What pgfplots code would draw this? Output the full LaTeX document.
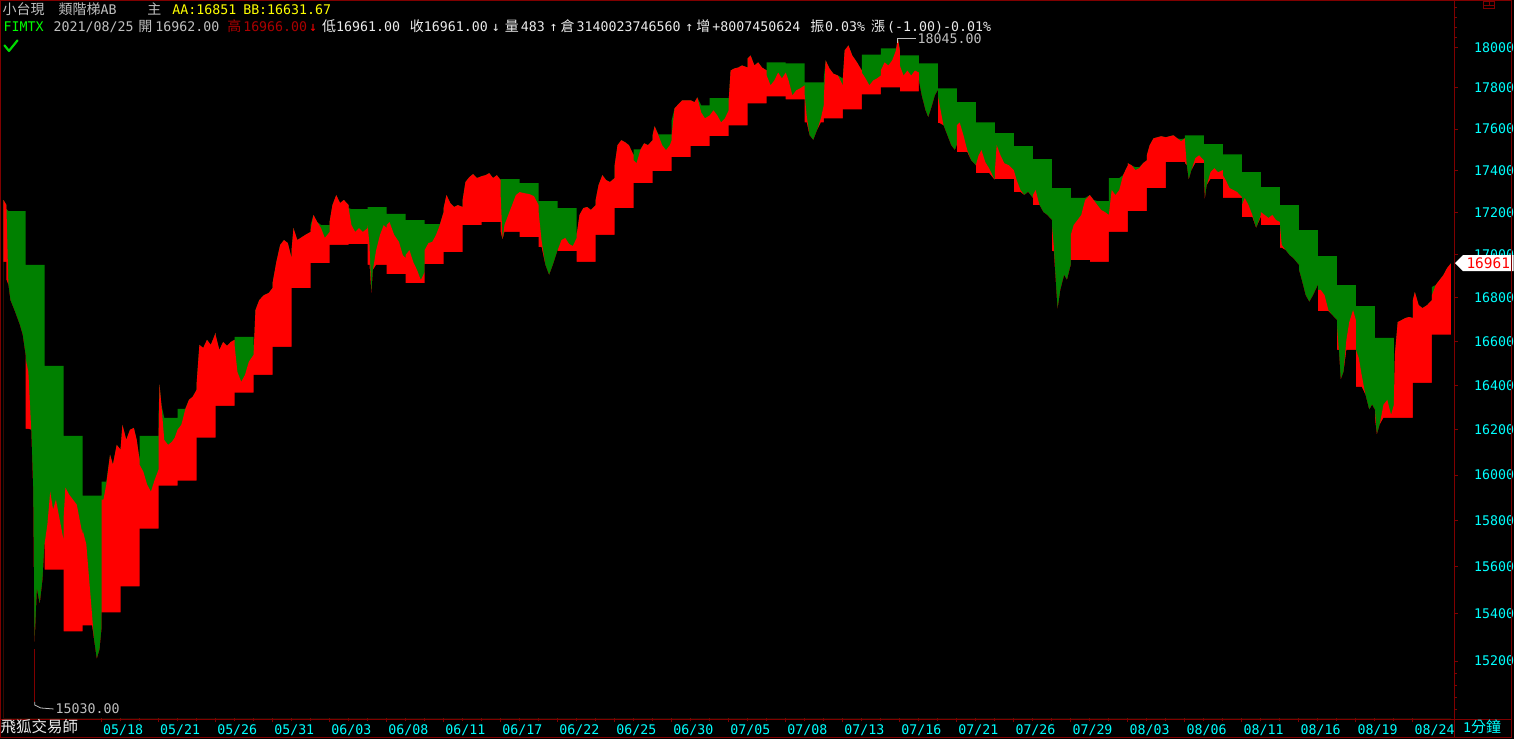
\documentclass[border=0pt]{standalone}
\usepackage{pgfplots}
\pgfplotsset{compat=1.18}
\usepackage{pgfplotstable}
\usetikzlibrary{shapes.symbols}
\usepackage{fontspec}
\setmainfont{DejaVu Sans Mono}
\newfontfamily\cjk{Noto Sans CJK TC}
\definecolor{cred}{RGB}{255,0,0}
\definecolor{cgreen}{RGB}{0,128,0}
\definecolor{dred}{RGB}{128,0,0}
\definecolor{ccyan}{RGB}{0,255,255}
\definecolor{lgray}{RGB}{192,192,192}
\definecolor{hgray}{RGB}{235,235,235}
\definecolor{cyel}{RGB}{255,255,0}
\definecolor{lgreen}{RGB}{0,255,0}
\definecolor{hired}{RGB}{170,0,0}
\pagecolor{black}
\newcommand\mfont{\fontsize{13.3}{14}\selectfont}
\newcommand\cfont{\cjk\fontsize{14}{14}\selectfont}

% x = trading-day index, p = price, aa / bb = ladder levels of the day
% (the price scale is logarithmic: y = ln(price/14963))
\pgfplotstableread{
x p aa bb
-0.158 17259 16967 16967
0 17235 16967 16967
0 17216 17207 16883
0.1 16860 17207 16883
0.2 16790 17207 16883
0.45 16735 17207 16883
0.7 16675 17207 16883
0.85 16630 17207 16883
1 16539 17207 16883
1 16525 16953 16205
1.15 16461 16953 16205
1.3 16201 16953 16205
1.4 15936 16953 16205
1.47 15250 16953 16205
1.6 15504 16953 16205
1.75 15440 16953 16205
1.9 15546 16953 16205
2 15697 16953 16205
2 15697 16489 15589
2.15 15783 16489 15589
2.3 15927 16489 15589
2.45 15849 16489 15589
2.6 15892 16489 15589
2.8 15805 16489 15589
3 15718 16489 15589
3 15805 16174 15326
3.1 15945 16174 15326
3.3 15914 16174 15326
3.5 15892 16174 15326
3.7 15870 16174 15326
3.85 15805 16174 15326
4 15740 16174 15326
4 15762 15910 15351
4.2 15697 15910 15351
4.35 15546 15910 15351
4.5 15398 15910 15351
4.6 15292 15910 15351
4.75 15208 15910 15351
4.9 15250 15910 15351
5 15334 15910 15351
5 15892 15971 15406
5.1 15892 15971 15406
5.25 15958 15971 15406
5.45 16090 15971 15406
5.6 16046 15971 15406
5.8 16134 15971 15406
6 16112 15971 15406
6 16112 15516 15516
6.1 16223 15516 15516
6.3 16156 15516 15516
6.5 16201 15516 15516
6.7 16209 15516 15516
6.85 16156 15516 15516
7 16068 15516 15516
7 16046 16174 15766
7.2 16015 16174 15766
7.4 15958 16174 15766
7.6 15927 16174 15766
7.8 15980 16174 15766
8 16024 16174 15766
8 16156 16254 15954
8.05 16403 16254 15954
8.15 16313 16254 15954
8.3 16156 16254 15954
8.5 16134 16254 15954
8.7 16147 16254 15954
8.85 16165 16254 15954
9 16201 16254 15954
9 16201 16295 15976
9.2 16223 16295 15976
9.4 16290 16295 15976
9.6 16335 16295 15976
9.8 16349 16295 15976
10 16380 16295 15976
10 16403 16165 16165
10.15 16584 16165 16165
10.35 16570 16165 16165
10.55 16607 16165 16165
10.75 16584 16165 16165
10.9 16616 16165 16165
11 16639 16165 16165
11 16630 16308 16308
11.2 16561 16308 16308
11.4 16598 16308 16308
11.6 16579 16308 16308
11.8 16598 16308 16308
12 16607 16308 16308
12 16584 16621 16367
12.15 16461 16621 16367
12.35 16416 16621 16367
12.55 16448 16621 16367
12.75 16507 16621 16367
13 16539 16621 16367
13 16539 16448 16448
13.1 16744 16448 16448
13.3 16790 16448 16448
13.55 16813 16448 16448
13.8 16823 16448 16448
14 16846 16448 16448
14 16869 16575 16575
14.2 16967 16575 16575
14.4 17047 16575 16575
14.6 17070 16575 16575
14.8 17056 16575 16575
15 16985 16575 16575
15 17023 16846 16846
15.1 17126 16846 16846
15.3 17070 16846 16846
15.55 17084 16846 16846
15.8 17098 16846 16846
16 17108 16846 16846
16 17117 17141 16962
16.15 17188 17141 16962
16.35 17155 17141 16962
16.55 17126 17141 16962
16.75 17080 17141 16962
17 17108 17141 16962
17 17155 17047 17047
17.15 17235 17047 17047
17.35 17283 17047 17047
17.55 17245 17047 17047
17.75 17259 17047 17047
18 17235 17047 17047
18 17221 17216 17051
18.15 17141 17216 17051
18.35 17108 17216 17051
18.55 17126 17216 17051
18.75 17108 17216 17051
19 17126 17216 17051
19 17141 17226 16953
19.1 17047 17226 16953
19.2 16813 17226 16953
19.28 16930 17226 16953
19.45 17023 17226 16953
19.65 17094 17226 16953
19.85 17141 17226 16953
20 17126 17226 16953
20 17141 17193 16911
20.15 17155 17193 16911
20.4 17094 17193 16911
20.65 17061 17193 16911
20.85 17000 17193 16911
21 16985 17193 16911
21 17000 17164 16869
21.2 17023 17164 16869
21.4 16967 17164 16869
21.6 16930 17164 16869
21.8 16883 17164 16869
22 16920 17164 16869
22 17023 17145 16957
22.2 17056 17145 16957
22.4 17061 17145 16957
22.6 17094 17145 16957
22.8 17141 17145 16957
23 17202 17145 16957
23 17221 17014 17014
23.15 17283 17014 17014
23.35 17245 17014 17014
23.55 17226 17014 17014
23.75 17235 17014 17014
24 17226 17014 17014
24 17259 17141 17141
24.15 17345 17141 17141
24.35 17368 17141 17141
24.55 17383 17141 17141
24.75 17364 17141 17141
25 17373 17141 17141
25 17373 17155 17155
25.2 17378 17155 17155
25.4 17387 17155 17155
25.6 17364 17155 17155
25.8 17378 17155 17155
26 17354 17155 17155
26 17283 17359 17108
26.1 17070 17359 17108
26.2 17141 17359 17108
26.4 17188 17359 17108
26.6 17235 17359 17108
26.8 17283 17359 17108
27 17297 17359 17108
27 17297 17340 17084
27.25 17292 17340 17084
27.5 17288 17340 17084
27.75 17278 17340 17084
28 17235 17340 17084
28 17202 17254 17037
28.15 17070 17254 17037
28.35 16953 17254 17037
28.55 16906 17254 17037
28.75 16953 17254 17037
29 17023 17254 17037
29 17023 17221 17018
29.2 17070 17221 17018
29.4 17080 17221 17018
29.6 17051 17221 17018
29.8 17042 17221 17018
30 17080 17221 17018
30 17094 16967 16967
30.15 17188 16967 16967
30.35 17221 16967 16967
30.55 17226 16967 16967
30.75 17212 16967 16967
31 17235 16967 16967
31 17259 17094 17094
31.15 17330 17094 17094
31.35 17378 17094 17094
31.55 17354 17094 17094
31.75 17345 17094 17094
32 17364 17094 17094
32 17425 17221 17221
32.15 17522 17221 17221
32.35 17546 17221 17221
32.55 17536 17221 17221
32.75 17522 17221 17221
33 17473 17221 17221
33 17449 17502 17340
33.15 17435 17502 17340
33.35 17498 17502 17340
33.55 17531 17502 17340
33.75 17522 17502 17340
34 17546 17502 17340
34 17570 17575 17397
34.1 17613 17575 17397
34.3 17570 17575 17397
34.5 17522 17575 17397
34.7 17498 17575 17397
34.9 17522 17575 17397
35 17546 17575 17397
35 17570 17642 17464
35.15 17701 17642 17464
35.35 17720 17642 17464
35.55 17740 17642 17464
35.75 17740 17642 17464
36 17740 17642 17464
36 17740 17715 17517
36.2 17730 17715 17517
36.35 17754 17715 17517
36.55 17681 17715 17517
36.75 17652 17715 17517
37 17666 17715 17517
37 17666 17750 17565
37.2 17691 17750 17565
37.4 17666 17750 17565
37.6 17632 17750 17565
37.8 17652 17750 17565
38 17691 17750 17565
38 17740 17618 17618
38.1 17886 17618 17618
38.3 17896 17618 17618
38.5 17901 17618 17618
38.7 17911 17618 17618
39 17901 17618 17618
39 17946 17725 17725
39.15 17960 17725 17725
39.35 17911 17725 17725
39.55 17926 17725 17725
39.75 17901 17725 17725
40 17886 17725 17725
40 17861 17926 17759
40.2 17813 17926 17759
40.4 17837 17926 17759
40.6 17876 17926 17759
40.8 17847 17926 17759
41 17876 17926 17759
41 17876 17921 17745
41.15 17837 17921 17745
41.35 17764 17921 17745
41.55 17788 17921 17745
41.75 17798 17921 17745
42 17813 17921 17745
42 17764 17827 17632
42.1 17666 17827 17632
42.25 17570 17827 17632
42.45 17546 17827 17632
42.65 17594 17827 17632
42.85 17652 17827 17632
43 17715 17827 17632
43 17740 17847 17652
43.1 17936 17847 17652
43.3 17896 17847 17652
43.5 17871 17847 17652
43.75 17861 17847 17652
44 17813 17847 17652
44 17837 17696 17696
44.1 17985 17696 17696
44.3 18010 17696 17696
44.5 17960 17696 17696
44.75 17926 17696 17696
45 17886 17696 17696
45 17876 17965 17769
45.2 17847 17965 17769
45.4 17813 17965 17769
45.6 17837 17965 17769
45.8 17847 17965 17769
46 17861 17965 17769
46 17886 17995 17803
46.2 17926 17995 17803
46.4 17911 17995 17803
46.6 17936 17995 17803
46.8 17985 17995 17803
46.9 18045 17995 17803
47 17985 17995 17803
47 17911 17960 17784
47.2 17861 17960 17784
47.4 17886 17960 17784
47.6 17861 17960 17784
47.8 17886 17960 17784
48 17876 17960 17784
48 17837 17921 17921
48.15 17764 17921 17921
48.35 17691 17921 17921
48.5 17656 17921 17921
48.7 17715 17921 17921
48.85 17764 17921 17921
49 17788 17921 17921
49 17764 17798 17628
49.1 17715 17798 17628
49.3 17618 17798 17628
49.5 17570 17798 17628
49.7 17522 17798 17628
49.9 17498 17798 17628
50 17522 17798 17628
50 17618 17730 17488
50.15 17632 17730 17488
50.35 17570 17730 17488
50.55 17498 17730 17488
50.75 17449 17730 17488
51 17425 17730 17488
51 17425 17632 17387
51.15 17473 17632 17387
51.3 17498 17632 17387
51.5 17440 17632 17387
51.7 17411 17632 17387
52 17354 17632 17387
52 17392 17580 17359
52.1 17522 17580 17359
52.3 17473 17580 17359
52.5 17435 17580 17359
52.75 17425 17580 17359
53 17402 17580 17359
53 17402 17517 17297
53.15 17354 17517 17297
53.35 17307 17517 17297
53.55 17283 17517 17297
53.75 17297 17517 17297
54 17269 17517 17297
54 17283 17454 17235
54.15 17307 17454 17235
54.35 17235 17454 17235
54.55 17202 17454 17235
54.75 17188 17454 17235
55 17164 17454 17235
55 17141 17316 17018
55.1 17047 17316 17018
55.2 16883 17316 17018
55.3 16744 17316 17018
55.45 16837 17316 17018
55.65 16906 17316 17018
55.8 16883 17316 17018
56 16953 17316 17018
56 17094 17269 16976
56.15 17141 17269 16976
56.35 17164 17269 16976
56.55 17188 17269 16976
56.75 17259 17269 16976
57 17283 17269 16976
57 17283 17254 16967
57.2 17259 17254 16967
57.4 17235 17254 16967
57.6 17212 17254 16967
57.8 17202 17254 16967
58 17188 17254 16967
58 17188 17364 17108
58.15 17307 17364 17108
58.35 17283 17364 17108
58.55 17307 17364 17108
58.75 17378 17364 17108
59 17425 17364 17108
59 17435 17416 17207
59.2 17425 17416 17207
59.4 17402 17416 17207
59.6 17411 17416 17207
59.8 17435 17416 17207
60 17449 17416 17207
60 17473 17316 17316
60.15 17522 17316 17316
60.35 17555 17316 17316
60.55 17560 17316 17316
60.75 17565 17316 17316
61 17560 17316 17316
61 17560 17551 17440
61.2 17565 17551 17440
61.4 17570 17551 17440
61.6 17555 17551 17440
61.8 17541 17551 17440
62 17555 17551 17440
62 17546 17570 17435
62.1 17425 17570 17435
62.2 17354 17570 17435
62.35 17402 17570 17435
62.55 17459 17570 17435
62.75 17473 17570 17435
63 17449 17570 17435
63 17425 17527 17359
63.05 17259 17527 17359
63.15 17330 17527 17359
63.35 17392 17527 17359
63.55 17411 17527 17359
63.75 17392 17527 17359
64 17402 17527 17359
64 17378 17478 17269
64.15 17354 17478 17269
64.35 17316 17478 17269
64.55 17307 17478 17269
64.75 17297 17478 17269
65 17273 17478 17269
65 17235 17392 17178
65.15 17269 17392 17178
65.35 17235 17392 17178
65.55 17188 17392 17178
65.75 17126 17392 17178
66 17188 17392 17178
66 17202 17321 17141
66.2 17188 17321 17141
66.4 17174 17321 17141
66.6 17188 17321 17141
66.8 17164 17321 17141
67 17155 17321 17141
67 17141 17235 17033
67.1 17047 17235 17033
67.3 17023 17235 17033
67.5 17000 17235 17033
67.7 16985 17235 17033
68 16953 17235 17033
68 16930 17117 17117
68.15 16883 17117 17117
68.35 16813 17117 17117
68.55 16781 17117 17117
68.75 16813 17117 17117
69 16860 17117 17117
69 16837 16995 16739
69.15 16837 16995 16739
69.35 16813 16995 16739
69.55 16744 16995 16739
69.75 16721 16995 16739
70 16698 16995 16739
70 16675 16860 16561
70.1 16561 16860 16561
70.2 16425 16860 16561
70.35 16461 16860 16561
70.5 16607 16860 16561
70.65 16689 16860 16561
70.85 16744 16860 16561
71 16698 16860 16561
71 16561 16762 16394
71.15 16525 16762 16394
71.3 16448 16762 16394
71.5 16358 16762 16394
71.7 16290 16762 16394
71.85 16313 16762 16394
72 16290 16762 16394
72 16290 16616 16254
72.1 16178 16616 16254
72.25 16223 16616 16254
72.45 16313 16616 16254
72.65 16335 16616 16254
72.85 16268 16616 16254
73 16313 16616 16254
73 16335 16254 16254
73.05 16539 16254 16254
73.2 16689 16254 16254
73.4 16698 16254 16254
73.6 16707 16254 16254
73.8 16712 16254 16254
74 16707 16254 16254
74 16790 16412 16412
74.1 16827 16412 16412
74.3 16767 16412 16412
74.5 16753 16412 16412
74.75 16767 16412 16412
75 16790 16412 16412
75 16813 16851 16631.67
75.2 16860 16851 16631.67
75.4 16883 16851 16631.67
75.6 16906 16851 16631.67
75.8 16939 16851 16631.67
76 16961 16851 16631.67
}\ladder

\pgfplotstableread{
x p
1.486 15250
1.486 15030
}\wick

\begin{document}
\begin{tikzpicture}[x=1pt,y=1pt]
\path (0,0) rectangle (1514,739);
\begin{axis}[
  at={(3pt,20pt)}, anchor=south west,
  scale only axis, width=1453pt, height=719pt,
  xmin=-0.158, xmax=76.155,
  ymin=0, ymax=0.197708,
  axis line style={draw=none},
  clip=false,
  xtick={5,8,...,74},
  xticklabels={05/18,05/21,05/26,05/31,06/03,06/08,06/11,06/17,06/22,06/25,06/30,07/05,07/08,07/13,07/16,07/21,07/26,07/29,08/03,08/06,08/11,08/16,08/19,08/24},
  minor x tick num=2,
  xtick pos=bottom,
  xticklabel style={font=\mfont, text=ccyan, anchor=base west, inner sep=0pt, xshift=1.5pt, yshift=-12pt},
  % tick positions = ln(price/14963)
  ytick={0.015715,0.028787,0.041691,0.054429,0.067009,0.079431,0.091701,0.103822,0.115799,0.127633,0.139329,0.150890,0.162319,0.173618,0.184792},
  yticklabels={15200,15400,15600,15800,16000,16200,16400,16600,16800,17000,17200,17400,17600,17800,18000},
  minor y tick num=3,
  extra y ticks={0.002470,0.005798,0.009115,0.012420,0.187566,0.190332,0.193091,0.195842},
  extra y tick labels={},
  extra y tick style={major tick length=3pt},
  ytick pos=right, yticklabel pos=right,
  tick align=outside,
  major tick length=4pt, minor tick length=3pt,
  tick style={dred, line width=0.9pt},
  yticklabel style={font=\mfont, text=ccyan, anchor=west, inner sep=0pt, xshift=16pt},
  scaled y ticks=false,
]
% green: up to max(price, AA); red: up to price; black mask: up to min(price, BB)
\addplot[fill=cgreen, draw=none] table[x=x, y expr={ln(max(\thisrow{p},\thisrow{aa})/14963)}] {\ladder} \closedcycle;
\addplot[fill=cred, draw=none] table[x=x, y expr={ln(\thisrow{p}/14963)}] {\ladder} \closedcycle;
\addplot[fill=black, draw=none] table[x=x, y expr={ln(min(\thisrow{p},\thisrow{bb})/14963)}] {\ladder} \closedcycle;
% the day's low wick
\addplot[dred, line width=1pt] table[x=x, y expr={ln(\thisrow{p}/14963)}] {\wick};
% annotations of the extremes (18045.00 and 15030.00)
\draw[lgray, line width=0.8pt] (axis cs:46.9,0.187289) ++(0pt,-5pt) -- ++(0pt,5pt) -- ++(18pt,0pt)
   node[anchor=west, inner sep=1.5pt, font=\mfont, text=lgray] {18045.00};
\draw[lgray, line width=0.8pt] (axis cs:1.486,0.004468) -- ++(0pt,-3pt) -- ++(6pt,-3pt) -- ++(13pt,-1pt)
   node[anchor=west, inner sep=1.5pt, font=\mfont, text=lgray] {15030.00};
% last price tag (16961)
\node[signal, signal to=west, signal pointer angle=90, fill=white, text=cred,
      font=\fontsize{14.5}{15}\selectfont,
      inner xsep=3.5pt, inner ysep=1.5pt, minimum height=16pt, anchor=west]
      at (axis cs:76.2,0.125337) {16961};
\end{axis}
% frame
\draw[dred, line width=1pt] (0,738.5) -- (1514,738.5);
\draw[dred, line width=1pt] (0.5,0) -- (0.5,739);
\draw[dred, line width=1pt] (1513.5,0) -- (1513.5,739);
\draw[dred, line width=1pt] (0,0.5) -- (1514,0.5);
\draw[dred, line width=1pt] (0,19) -- (1514,19);
\draw[dred, line width=1pt] (1456.5,0) -- (1456.5,739);
\draw[dred, line width=0.8pt] (1486,738.5) rectangle (1497,731);
\draw[dred, line width=0.8pt] (1486,734.5) -- (1497,734.5) (1491.5,738.5) -- (1491.5,734.5);
% header line 1
\node[anchor=base west, inner sep=0pt, text=lgray, font=\cfont] at (2,724.5) {小台現};
\node[anchor=base west, inner sep=0pt, text=lgray, font=\mfont] at (58,724.5) {{\cfont 類階梯}AB};
\node[anchor=base west, inner sep=0pt, text=lgray, font=\cfont] at (147,724.5) {主};
\node[anchor=base west, inner sep=0pt, text=cyel, font=\mfont] at (172,724.5) {AA:16851};
\node[anchor=base west, inner sep=0pt, text=cyel, font=\mfont] at (243,724.5) {BB:16631.67};
% header line 2
\node[anchor=base west, inner sep=0pt, text=lgreen, font=\mfont] at (3,708) {FIMTX};
\node[anchor=base west, inner sep=0pt, text=lgray, font=\mfont] at (53,708) {2021/08/25};
\node[anchor=base west, inner sep=0pt, text=lgray, font=\cfont] at (138,708) {開};
\node[anchor=base west, inner sep=0pt, text=lgray, font=\mfont] at (155,708) {16962.00};
\node[anchor=base west, inner sep=0pt, text=hired, font=\cfont] at (227,708) {高};
\node[anchor=base west, inner sep=0pt, text=hired, font=\mfont] at (243,708) {16966.00};
\node[anchor=base west, inner sep=0pt, text=cred, font=\mfont] at (309,708) {↓};
\node[anchor=base west, inner sep=0pt, text=hgray, font=\cfont] at (322,708) {低};
\node[anchor=base west, inner sep=0pt, text=hgray, font=\mfont] at (336,708) {16961.00};
\node[anchor=base west, inner sep=0pt, text=hgray, font=\cfont] at (410,708) {收};
\node[anchor=base west, inner sep=0pt, text=hgray, font=\mfont] at (424,708) {16961.00};
\node[anchor=base west, inner sep=0pt, text=hgray, font=\mfont] at (492,708) {↓};
\node[anchor=base west, inner sep=0pt, text=hgray, font=\cfont] at (505,708) {量};
\node[anchor=base west, inner sep=0pt, text=hgray, font=\mfont] at (521,708) {483};
\node[anchor=base west, inner sep=0pt, text=hgray, font=\mfont] at (550,708) {↑};
\node[anchor=base west, inner sep=0pt, text=hgray, font=\cfont] at (561,708) {倉};
\node[anchor=base west, inner sep=0pt, text=hgray, font=\mfont] at (577,708) {3140023746560};
\node[anchor=base west, inner sep=0pt, text=hgray, font=\mfont] at (686,708) {↑};
\node[anchor=base west, inner sep=0pt, text=hgray, font=\cfont] at (697,708) {增};
\node[anchor=base west, inner sep=0pt, text=hgray, font=\mfont] at (713,708) {+8007450624};
\node[anchor=base west, inner sep=0pt, text=hgray, font=\cfont] at (811,708) {振};
\node[anchor=base west, inner sep=0pt, text=hgray, font=\mfont] at (826,708) {0.03\%};
\node[anchor=base west, inner sep=0pt, text=hgray, font=\cfont] at (872,708) {漲};
\node[anchor=base west, inner sep=0pt, text=hgray, font=\mfont] at (888,708) {(-1.00)-0.01\%};
% check mark
\draw[lgreen!85!black, line width=2.2pt, line cap=round, line join=round] (4,694) -- (8.5,688.5) -- (17,699);
% bottom band
\node[anchor=base west, inner sep=0pt, text=hgray, font=\cjk\fontsize{15.5}{16}\selectfont] at (0,6) {飛狐交易師};
\node[anchor=base west, inner sep=0pt, text=ccyan, font=\mfont] at (1465,6) {1{\cjk\fontsize{15}{16}\selectfont 分鐘}};
\end{tikzpicture}
\end{document}
